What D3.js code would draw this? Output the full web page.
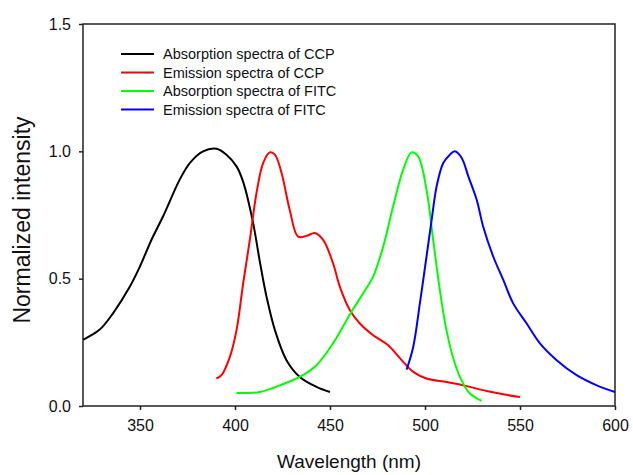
<!DOCTYPE html>
<html>
<head>
<meta charset="utf-8">
<script src="https://cdn.jsdelivr.net/npm/d3@7"></script>
<style>
  body { margin: 0; background: #fff; }
  svg { display: block; font-family: "Liberation Sans", Arial, sans-serif; }
</style>
</head>
<body>
<svg id="chart"></svg>
<script>
// Absorption spectra of CCP
const ccpAbsX = [320, 328.8, 335.8, 344.6, 349.9, 356, 362.1, 370.9, 376.2, 383.2, 390.2, 395.5, 400.8, 404.3, 409.5, 413, 416.6, 421, 427.1, 434.1, 442.9, 450];
const ccpAbsY = [0.26, 0.30, 0.364, 0.468, 0.547, 0.652, 0.744, 0.889, 0.954, 1.0, 1.01, 0.987, 0.941, 0.88, 0.72, 0.57, 0.429, 0.298, 0.18, 0.114, 0.075, 0.055];

// Emission spectra of CCP
const ccpEmX = [390.2, 392.9, 397.3, 400.8, 404.3, 407.8, 411.3, 414.8, 418.3, 421, 424.5, 428.8, 433.2, 437.6, 442, 446.4, 451.6, 455.2, 460.4, 465.7, 472.7, 480.6, 487.7, 493.8, 500.8, 511.4, 520.1, 532.4, 541.2, 550];
const ccpEmY = [0.108, 0.121, 0.193, 0.298, 0.482, 0.652, 0.836, 0.954, 0.996, 0.987, 0.915, 0.77, 0.665, 0.668, 0.679, 0.652, 0.56, 0.468, 0.377, 0.324, 0.278, 0.239, 0.18, 0.134, 0.108, 0.094, 0.081, 0.059, 0.046, 0.035];

// Absorption spectra of FITC
const fitcAbsX = [400.8, 413, 423.6, 434.1, 442.9, 451.6, 461.3, 467.4, 472.7, 478, 483.2, 488.5, 492.9, 496.4, 500.8, 504.3, 507.8, 511.3, 515.7, 520.1, 523.6, 529.8];
const fitcAbsY = [0.051, 0.055, 0.081, 0.114, 0.16, 0.246, 0.37, 0.442, 0.508, 0.626, 0.783, 0.928, 0.996, 0.98, 0.849, 0.652, 0.456, 0.298, 0.167, 0.088, 0.049, 0.02];

// Emission spectra of FITC
const fitcEmX = [490.3, 493.8, 497.3, 500.8, 503.5, 506.1, 509.6, 513.1, 515.7, 519.3, 522.8, 527.2, 530.6, 535.9, 541.2, 546.4, 553.5, 560.5, 569.3, 579.8, 590.4, 600];
const fitcEmY = [0.143, 0.232, 0.403, 0.587, 0.731, 0.862, 0.954, 0.987, 1.0, 0.974, 0.902, 0.81, 0.705, 0.587, 0.495, 0.403, 0.324, 0.246, 0.18, 0.121, 0.081, 0.055];

const seriesNames = ["Absorption spectra of CCP", "Emission spectra of CCP", "Absorption spectra of FITC", "Emission spectra of FITC"];
const seriesColors = ["#000000", "#ff0000", "#00ff00", "#0000ff"];
const xTicks = [350, 400, 450, 500, 550, 600];
const yTicks = [0, 0.5, 1.0, 1.5];

const series = [
  [ccpAbsX, ccpAbsY],
  [ccpEmX, ccpEmY],
  [fitcAbsX, fitcAbsY],
  [fitcEmX, fitcEmY],
].map(([xs, ys], i) => ({
  name: seriesNames[i],
  color: seriesColors[i],
  points: xs.map((x, j) => [x, ys[j]]),
}));

const W = 633, H = 475;
const margin = { top: 24, right: 18, bottom: 69, left: 83 };
const iW = W - margin.left - margin.right;
const iH = H - margin.top - margin.bottom;

const svg = d3.select("#chart").attr("width", W).attr("height", H);

const x = d3.scaleLinear().domain([320, 600]).range([0, iW]);
const y = d3.scaleLinear().domain([0, 1.5]).range([iH, 0]);

const g = svg.append("g").attr("transform", `translate(${margin.left},${margin.top})`);

// Curves
const line = d3.line()
  .x((d) => x(d[0]))
  .y((d) => y(d[1]))
  .curve(d3.curveCatmullRom.alpha(0.5));

for (const s of series) {
  g.append("path")
    .datum(s.points)
    .attr("fill", "none")
    .attr("stroke", s.color)
    .attr("stroke-width", 2)
    .attr("stroke-linejoin", "round")
    .attr("d", line);
}

// Frame
g.append("rect")
  .attr("width", iW)
  .attr("height", iH)
  .attr("fill", "none")
  .attr("stroke", "#222")
  .attr("stroke-width", 1.5);

// X axis
g.append("g")
  .attr("transform", `translate(0,${iH})`)
  .call(d3.axisBottom(x).tickValues(xTicks).tickSize(4).tickPadding(10).tickFormat(d3.format("d")))
  .call((a) => a.select(".domain").remove())
  .call((a) => a.selectAll("line").attr("stroke", "#222").attr("stroke-width", 1.5))
  .call((a) => a.selectAll("text").attr("fill", "#111").attr("font-size", 16).attr("font-family", "Liberation Sans, Arial, sans-serif"));

// Y axis
g.append("g")
  .call(d3.axisLeft(y).tickValues(yTicks).tickSize(4).tickPadding(8).tickFormat(d3.format(".1f")))
  .call((a) => a.select(".domain").remove())
  .call((a) => a.selectAll("line").attr("stroke", "#222").attr("stroke-width", 1.5))
  .call((a) => a.selectAll("text").attr("fill", "#111").attr("font-size", 16).attr("font-family", "Liberation Sans, Arial, sans-serif"));

// Axis titles
svg.append("text")
  .attr("x", margin.left + iW / 2)
  .attr("y", 468)
  .attr("text-anchor", "middle")
  .attr("font-size", 19)
  .attr("fill", "#111")
  .text("Wavelength (nm)");

svg.append("text")
  .attr("transform", `translate(30,220) rotate(-90)`)
  .attr("text-anchor", "middle")
  .attr("font-size", 23)
  .attr("fill", "#111")
  .text("Normalized intensity");

// Legend
const legend = svg.append("g").attr("transform", "translate(121,54)");
series.forEach((s, i) => {
  const row = legend.append("g").attr("transform", `translate(0,${i * 18.5})`);
  row.append("line")
    .attr("x1", 0).attr("x2", 33)
    .attr("stroke", s.color)
    .attr("stroke-width", 2);
  row.append("text")
    .attr("x", 42)
    .attr("dy", "0.35em")
    .attr("font-size", 14.5)
    .attr("fill", "#111")
    .text(s.name);
});
</script>
</body>
</html>
